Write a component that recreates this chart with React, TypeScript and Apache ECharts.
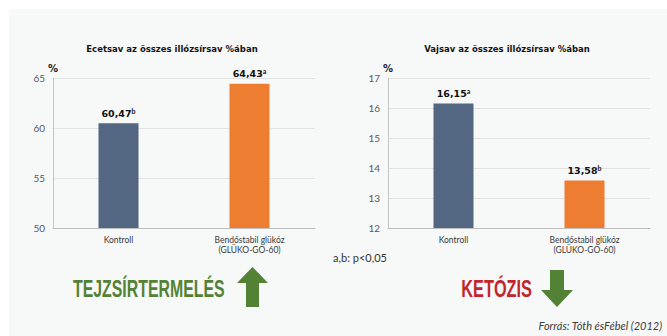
import React, { useEffect, useRef } from "react";
import * as echarts from "echarts";

// Categories shared by both panels
const categories = ["Kontroll", "Bendőstabil glükóz\n(GLÜKO-GO-60)"];

// Acetic acid share of total volatile fatty acids (%)
const aceticValues = [60.47, 64.43];
const aceticLetters = ["b", "a"];
const aceticAxis = { min: 50, max: 65, step: 5 };

// Butyric acid share of total volatile fatty acids (%)
const butyricValues = [16.15, 13.58];
const butyricLetters = ["a", "b"];
const butyricAxis = { min: 12, max: 17, step: 1 };

const barColors = ["#536782", "#ed7d31"];

const titles = [
  "Ecetsav az összes illózsírsav %ában",
  "Vajsav az összes illózsírsav %ában",
];

const FONT = "Lato, 'Open Sans', sans-serif";
const WIDE = "'DejaVu Sans', sans-serif";
const HEAVY = "'Liberation Sans', Arial, sans-serif";
const GREEN = "#548235";

function fmt(v: number) {
  return v.toFixed(2).replace(".", ",");
}

export default function App() {
  const ref = useRef<HTMLDivElement>(null);

  useEffect(() => {
    if (!ref.current) return;
    const chart = echarts.init(ref.current, null, { renderer: "svg" });

    const grids = [
      { left: 53, top: 78, width: 262, height: 150 },
      { left: 388, top: 78, width: 262, height: 150 },
    ];
    const axes = [aceticAxis, butyricAxis];
    const values = [aceticValues, butyricValues];
    const letters = [aceticLetters, butyricLetters];

    const xAxis = grids.map((_, i) => ({
      type: "category" as const,
      gridIndex: i,
      data: categories,
      axisLine: { show: true, lineStyle: { color: "#bdbdbd", width: 1 } },
      axisTick: { show: false },
      axisLabel: {
        color: "#3a3a3a",
        fontFamily: FONT,
        fontSize: 8.5,
        lineHeight: 10,
        margin: 7,
        interval: 0,
      },
    }));

    const yAxis = axes.map((a, i) => ({
      type: "value" as const,
      gridIndex: i,
      min: a.min,
      max: a.max,
      interval: a.step,
      axisLine: { show: true, lineStyle: { color: "#c4c4c4", width: 1 } },
      axisTick: { show: false },
      splitLine: { lineStyle: { color: "#e2e2e2", width: 1 } },
      axisLabel: {
        color: "#5a5a5a",
        fontFamily: FONT,
        fontSize: 10,
        margin: 8,
      },
    }));

    const series = values.map((vals, i) => ({
      type: "bar" as const,
      xAxisIndex: i,
      yAxisIndex: i,
      barWidth: 40,
      data: vals.map((v, j) => ({ value: v, itemStyle: { color: barColors[j] } })),
      label: {
        show: true,
        position: "top" as const,
        distance: 4,
        formatter: (p: any) => `{v|${fmt(p.value)}}{s|${letters[i][p.dataIndex]}}`,
        rich: {
          v: { fontFamily: WIDE, fontSize: 9.5, fontWeight: "bold", color: "#111" },
          s: {
            fontFamily: FONT,
            fontSize: 7,
            fontWeight: "bold",
            color: "#111",
            verticalAlign: "top",
            padding: [0, 0, 5, 0],
          },
        },
      },
    }));

    const titleCenters = [172, 507];

    const graphic: any[] = [
      {
        type: "rect",
        z: -10,
        shape: { x: 9, y: 9, width: 660, height: 330 },
        style: { fill: "#f7f8f8" },
      },
      ...titles.map((t, i) => ({
        type: "text",
        x: titleCenters[i],
        y: 49,
        style: {
          text: t,
          fill: "#141414",
          font: `bold 8.5px ${WIDE}`,
          align: "center",
          verticalAlign: "middle",
        },
      })),
      ...grids.map((g) => ({
        type: "text",
        x: g.left,
        y: 68,
        style: {
          text: "%",
          fill: "#222",
          font: `bold 10px ${WIDE}`,
          align: "center",
          verticalAlign: "middle",
        },
      })),
      {
        type: "text",
        x: 360,
        y: 257,
        style: {
          text: "a,b: p<0,05",
          fill: "#333",
          font: `11px ${FONT}`,
          align: "center",
          verticalAlign: "middle",
        },
      },
      {
        type: "text",
        x: 73,
        y: 289,
        scaleX: 0.69,
        style: {
          text: "TEJZSÍRTERMELÉS",
          fill: GREEN,
          font: `bold 23px ${HEAVY}`,
          align: "left",
          verticalAlign: "middle",
        },
      },
      {
        type: "text",
        x: 532,
        y: 289,
        scaleX: 0.71,
        style: {
          text: "KETÓZIS",
          fill: "#c0272d",
          font: `bold 23px ${HEAVY}`,
          align: "right",
          verticalAlign: "middle",
        },
      },
      {
        // upward arrow
        type: "polygon",
        shape: {
          points: [
            [252.5, 267],
            [268, 283],
            [259, 283],
            [259, 307],
            [246, 307],
            [246, 283],
            [237, 283],
          ],
        },
        style: { fill: GREEN },
      },
      {
        // downward arrow
        type: "polygon",
        shape: {
          points: [
            [550, 270],
            [564, 270],
            [564, 290],
            [573, 290],
            [557, 307],
            [541, 290],
            [550, 290],
          ],
        },
        style: { fill: GREEN },
      },
      {
        type: "text",
        x: 662,
        y: 325,
        style: {
          text: "Forrás: Tóth ésFébel (2012)",
          fill: "#3c3c3c",
          font: `italic 11px ${FONT}`,
          align: "right",
          verticalAlign: "middle",
        },
      },
    ];

    chart.setOption({
      animation: false,
      backgroundColor: "#ffffff",
      grid: grids,
      xAxis,
      yAxis,
      series,
      graphic,
    });

    return () => chart.dispose();
  }, []);

  return (
    <div
      ref={ref}
      style={{ position: "fixed", left: 0, top: 0, width: 667, height: 336 }}
    />
  );
}
